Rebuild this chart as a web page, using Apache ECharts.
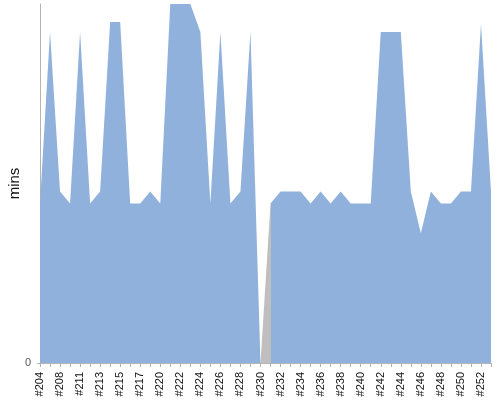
<!DOCTYPE html>
<html>
<head>
<meta charset="utf-8">
<script src="https://cdn.jsdelivr.net/npm/echarts@6/dist/echarts.min.js"></script>
<style>
html,body{margin:0;padding:0;background:#fff;}
#chart{width:500px;height:400px;}
</style>
</head>
<body>
<div id="chart"></div>
<script>
// Build labels (category axis)
const builds = ['#204','#206','#208','#209','#211','#212','#213','#214','#215','#216',
  '#217','#218','#220','#221','#222','#223','#224','#225','#226','#227',
  '#228','#229','#230','#231','#232','#233','#234','#235','#236','#237',
  '#238','#239','#240','#241','#242','#243','#244','#245','#246','#247',
  '#248','#249','#250','#251','#252','#253'];
// Build duration in minutes
const durations = [0.40,0.83,0.43,0.40,0.83,0.40,0.43,0.855,0.855,0.40,
  0.40,0.43,0.40,0.90,0.90,0.90,0.83,0.40,0.83,0.40,
  0.43,0.83,0.0,0.40,0.43,0.43,0.43,0.40,0.43,0.40,
  0.43,0.40,0.40,0.40,0.83,0.83,0.83,0.43,0.325,0.43,
  0.40,0.40,0.43,0.43,0.85,0.43];
// Index of the aborted build (drawn gray)
const abortedIndex = 22;

const chart = echarts.init(document.getElementById('chart'));
chart.setOption({
  animation: false,
  backgroundColor: '#ffffff',
  grid: {left: 40, right: 9, top: 4, bottom: 37, containLabel: false, outerBoundsMode: 'none'},
  visualMap: {
    type: 'piecewise', show: false, dimension: 0, seriesIndex: 0,
    pieces: [
      {lt: abortedIndex - 0.5, color: '#8fb1db'},
      {gte: abortedIndex - 0.5, lte: abortedIndex + 0.5, color: '#bfbfbf'},
      {gt: abortedIndex + 0.5, color: '#8fb1db'}
    ]
  },
  xAxis: {
    type: 'category',
    data: builds,
    boundaryGap: false,
    axisLine: {lineStyle: {color: '#b4b4b4', width: 1}},
    axisTick: {interval: 0, length: 4, lineStyle: {color: '#b4b4b4'}},
    axisLabel: {interval: 1, rotate: 90, margin: 9, fontSize: 11,
      fontFamily: 'Liberation Sans', color: '#111'},
    splitLine: {show: false}
  },
  yAxis: {
    type: 'value',
    min: 0, max: 0.9, interval: 1,
    name: 'mins',
    nameLocation: 'middle',
    nameGap: 18,
    nameMoveOverlap: false,
    nameRotate: 90,
    nameTextStyle: {fontSize: 15, fontFamily: 'Liberation Sans', color: '#111'},
    axisLine: {show: true, lineStyle: {color: '#b4b4b4', width: 1}},
    axisTick: {show: true, length: 3, lineStyle: {color: '#b4b4b4'}},
    axisLabel: {fontSize: 11, fontFamily: 'Liberation Sans', color: '#555', margin: 9, showMaxLabel: false},
    splitLine: {show: false}
  },
  series: [{
    type: 'line',
    data: durations,
    showSymbol: false,
    symbol: 'none',
    lineStyle: {width: 0},
    areaStyle: {opacity: 1},
    z: 2
  }]
});
</script>
</body>
</html>
